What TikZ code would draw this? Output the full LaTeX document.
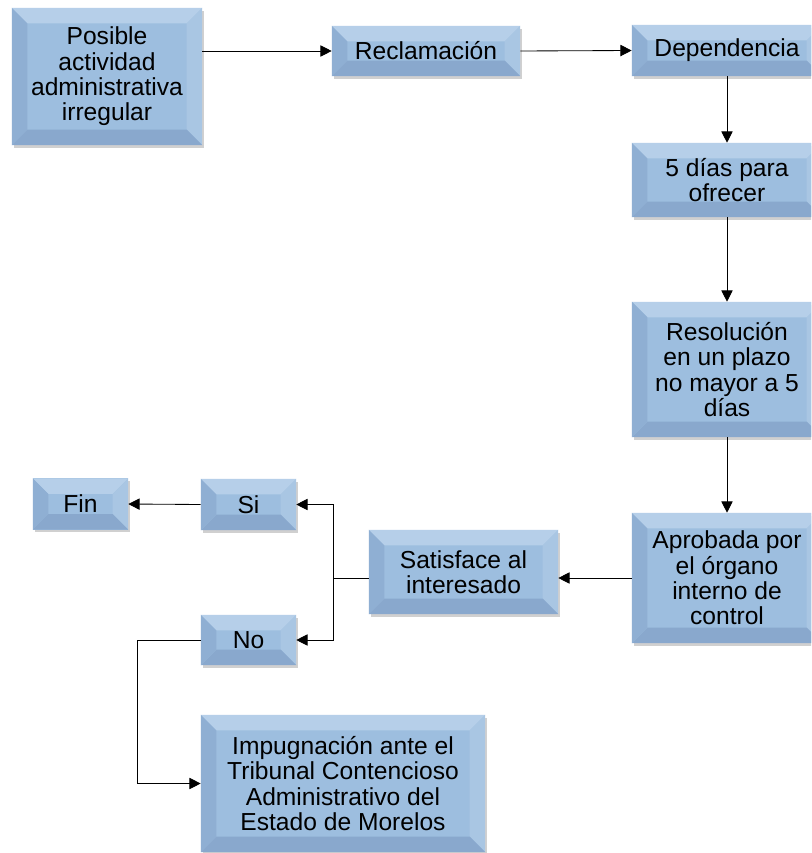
\documentclass[tikz,border=0pt]{standalone}
\usepackage{fontspec}
\setmainfont{Liberation Sans}
\usepackage{tikz}
\usetikzlibrary{arrows.meta,shadows}

\definecolor{cajaazul}{HTML}{9DBEDF}
\definecolor{bisclaro}{HTML}{B6CFE9}
\definecolor{bisderecho}{HTML}{A9C6E3}
\definecolor{bisizq}{HTML}{8FAFD3}
\definecolor{bisabajo}{HTML}{89A8CD}

\tikzset{
    caja/.style={rectangle, fill=cajaazul, align=center, inner sep=2pt,
        font=\fontsize{17.5}{18}\selectfont,
        drop shadow={shadow xshift=1.5pt, shadow yshift=-2pt, opacity=0.3, fill=black!60},
        path picture={
            \path (path picture bounding box.north west) coordinate (nw)
                  (path picture bounding box.north east) coordinate (ne)
                  (path picture bounding box.south west) coordinate (sw)
                  (path picture bounding box.south east) coordinate (se);
            \fill[bisclaro] (nw) -- (ne) -- ([shift={(-11pt,-11pt)}]ne) -- ([shift={(11pt,-11pt)}]nw) -- cycle;
            \fill[bisderecho] (ne) -- (se) -- ([shift={(-11pt,11pt)}]se) -- ([shift={(-11pt,-11pt)}]ne) -- cycle;
            \fill[bisabajo] (se) -- (sw) -- ([shift={(11pt,11pt)}]sw) -- ([shift={(-11pt,11pt)}]se) -- cycle;
            \fill[bisizq] (sw) -- (nw) -- ([shift={(11pt,-11pt)}]nw) -- ([shift={(11pt,11pt)}]sw) -- cycle;
        }},
    flecha/.style={-{Triangle[length=8pt,width=8pt]}, line width=0.6pt}
}

\begin{document}
\begin{tikzpicture}[x=0.025cm, y=-0.025cm]
        \clip (0, 0) rectangle (811, 853); % frame of the page
        \fill[white] (0, 0) rectangle (811, 853);

        % upper row
        \node [caja, minimum width=4.75cm, minimum height=3.425cm] (act) at (107, 76.5) {Posible\\actividad\\administrativa\\irregular};
        \node [caja, minimum width=4.7cm, minimum height=1.25cm] (recl) at (426, 51) {Reclamación};
        \node [caja, minimum width=4.75cm, minimum height=1.275cm] (dep) at (727, 50.5) {Dependencia};

        % right column
        \node [caja, minimum width=4.75cm, minimum height=1.85cm] (dias) at (727, 180) {5 días para\\ofrecer};
        \node [caja, minimum width=4.75cm, minimum height=3.375cm] (resol) at (727, 369.5) {Resolución\\en un plazo\\no mayor a 5\\días};
        \node [caja, minimum width=4.75cm, minimum height=3.25cm] (aprob) at (727, 578) {Aprobada por\\el órgano\\interno de\\control};

        % lower part
        \node [caja, minimum width=4.725cm, minimum height=2.1cm] (satis) at (463.5, 572) {Satisface al\\interesado};
        \node [caja, minimum width=2.375cm, minimum height=1.275cm] (si) at (248.5, 504.5) {Si};
        \node [caja, minimum width=2.375cm, minimum height=1.25cm] (no) at (248.5, 640) {No};
        \node [caja, minimum width=2.375cm, minimum height=1.275cm] (fin) at (80.5, 504) {Fin};
        \node [caja, minimum width=7.1cm, minimum height=3.425cm] (imp) at (343, 783.5) {Impugnación ante el\\Tribunal Contencioso\\Administrativo del\\Estado de Morelos};

        \coordinate (split) at (333, 578);

        \draw [flecha] (act.east |- recl.west) -- (recl.west);
        \draw [flecha] (recl.east) -- (dep.west);
        \draw [flecha] (dep.south) -- (dias.north);
        \draw [flecha] (dias.south) -- (resol.north);
        \draw [flecha] (resol.south) -- (aprob.north);
        \draw [flecha] (aprob.west) -- (aprob.west -| satis.east);
        \draw [line width=0.6pt] (satis.west |- split) -- (split);
        \draw [flecha] (split) |- (si.east);
        \draw [flecha] (split) |- (no.east);
        \draw [flecha] (si.west) -- (fin.east);
        \draw [flecha] (no.west) -- ++(-63, 0) |- (imp.west);
    \end{tikzpicture}
\end{document}
